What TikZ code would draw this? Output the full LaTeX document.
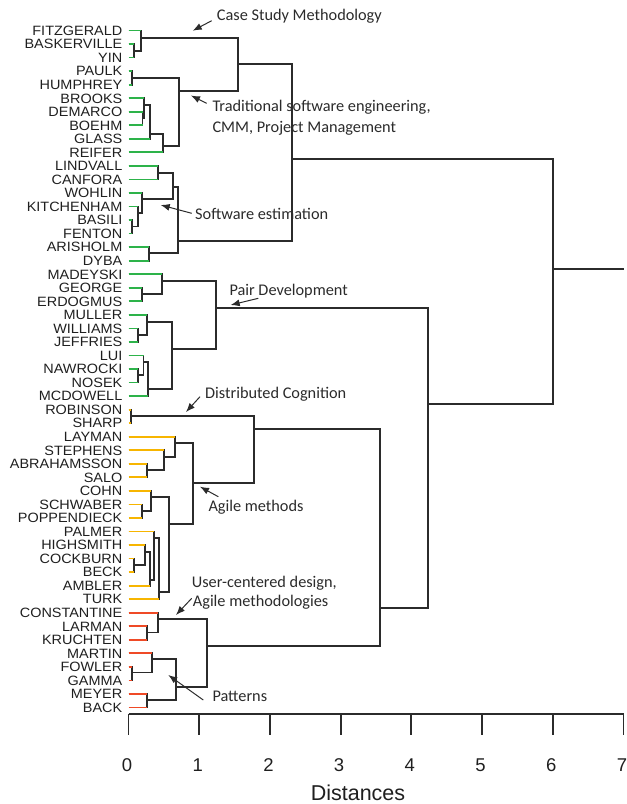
\documentclass[tikz,border=0pt]{standalone}
\usepackage{fontspec}
\setmainfont{Liberation Sans}
\newfontfamily\annfont{Carlito}
\usetikzlibrary{arrows.meta}
\definecolor{lgreen}{HTML}{2DB34A}
\definecolor{lyellow}{HTML}{F7B500}
\definecolor{lred}{HTML}{EF4A26}
\definecolor{tcol}{HTML}{2B2B2B}
\tikzset{
  tr/.style={draw=tcol, line width=1.75pt},
  gl/.style={draw=lgreen, line width=1.75pt},
  yl/.style={draw=lyellow, line width=1.75pt},
  rl/.style={draw=lred, line width=1.75pt},
  leaflab/.style={anchor=base east, inner sep=0pt, font=\fontsize{13.5}{14}\selectfont, text=black!88},
  ann/.style={anchor=base west, inner sep=0pt, font=\annfont\fontsize{16.3}{20}\selectfont, text=tcol},
  annarrow/.style={draw=tcol, line width=1pt, -{Latex[length=9pt,width=7pt]}},
  axisline/.style={draw=tcol, line width=1.75pt},
  ticklab/.style={anchor=base, inner sep=0pt, font=\fontsize{18.5}{20}\selectfont, text=black!88},
}
\newcommand\dm[5]{%
  \draw[tr] (#2) -- (#2 -| #1) -- (#3 -| #1) -- (#3);
  \draw[#4] (#2) -- (#2 -| #1);
  \draw[#5] (#3) -- (#3 -| #1);
}
\begin{document}
\begin{tikzpicture}[x=1pt,y=-1pt]
\useasboundingbox (0,0) rectangle (627,804);
% leaves
\foreach \n [count=\i from 0] in {FITZGERALD,BASKERVILLE,YIN,PAULK,HUMPHREY,BROOKS,DEMARCO,BOEHM,GLASS,REIFER,LINDVALL,CANFORA,WOHLIN,KITCHENHAM,BASILI,FENTON,ARISHOLM,DYBA,MADEYSKI,GEORGE,ERDOGMUS,MULLER,WILLIAMS,JEFFRIES,LUI,NAWROCKI,NOSEK,MCDOWELL,ROBINSON,SHARP,LAYMAN,STEPHENS,ABRAHAMSSON,SALO,COHN,SCHWABER,POPPENDIECK,PALMER,HIGHSMITH,COCKBURN,BECK,AMBLER,TURK,CONSTANTINE,LARMAN,KRUCHTEN,MARTIN,FOWLER,GAMMA,MEYER,BACK}{
  \coordinate (\n) at (128.5,{30.5+13.54*\i});
  \node[leaflab] (t\n) at (122.5,{30.5+13.54*\i+4.8}) {\scalebox{1.07}[1]{\n}};
}
% merge points
\coordinate (A1) at (134.3,51);
\coordinate (A2) at (140.7,38.3);
\coordinate (B1) at (132.3,78);
\coordinate (C1) at (142.5,118.5);
\coordinate (C2) at (144.2,105);
\coordinate (C3) at (150,134);
\coordinate (C4) at (163,146);
\coordinate (B2) at (179,91);
\coordinate (A3) at (237.7,64);
\coordinate (D1) at (158.3,173);
\coordinate (E1) at (132.3,226.5);
\coordinate (E2) at (137.7,213.3);
\coordinate (E3) at (141.7,199.3);
\coordinate (D2) at (173.3,186.7);
\coordinate (F1) at (149.3,253.3);
\coordinate (D3) at (178.3,240.7);
\coordinate (G) at (292,159);
\coordinate (H1) at (141.7,294);
\coordinate (H2) at (161.7,281);
\coordinate (I1) at (138.3,335);
\coordinate (I2) at (146.7,321.7);
\coordinate (J1) at (138.3,375);
\coordinate (J2) at (143.5,362.3);
\coordinate (J3) at (148.3,389);
\coordinate (I3) at (171.7,349);
\coordinate (K) at (216,307.7);
\coordinate (RS) at (131,415.7);
\coordinate (L1) at (146.7,470);
\coordinate (L2) at (164.3,456.7);
\coordinate (L3) at (175,442.7);
\coordinate (M1) at (141.7,510.7);
\coordinate (M2) at (151,497.3);
\coordinate (N1) at (134.3,565);
\coordinate (N2) at (145,551.7);
\coordinate (N3) at (150,580);
\coordinate (N4) at (154.3,538.3);
\coordinate (N5) at (159.3,591.7);
\coordinate (M3) at (169.3,524);
\coordinate (L4) at (193.3,483.3);
\coordinate (O) at (254.3,429.3);
\coordinate (P1) at (146.7,632.5);
\coordinate (P2) at (158.3,619);
\coordinate (Q1) at (132.3,672.5);
\coordinate (Q2) at (151.7,659.3);
\coordinate (Q3) at (146.7,700);
\coordinate (Q4) at (176,686.7);
\coordinate (R) at (206.7,646);
\coordinate (S) at (380,608);
\coordinate (T) at (428,404);
\coordinate (ROOT) at (553,269);
\coordinate (rootend) at (624,269);
% merges
\dm{A1}{BASKERVILLE}{YIN}{gl}{gl}
\dm{A2}{FITZGERALD}{A1}{gl}{tr}
\dm{B1}{PAULK}{HUMPHREY}{gl}{gl}
\dm{C1}{DEMARCO}{BOEHM}{gl}{gl}
\dm{C2}{BROOKS}{C1}{gl}{tr}
\dm{C3}{C2}{GLASS}{tr}{gl}
\dm{C4}{C3}{REIFER}{tr}{gl}
\dm{B2}{B1}{C4}{tr}{tr}
\dm{A3}{A2}{B2}{tr}{tr}
\dm{D1}{LINDVALL}{CANFORA}{gl}{gl}
\dm{E1}{BASILI}{FENTON}{gl}{gl}
\dm{E2}{KITCHENHAM}{E1}{gl}{tr}
\dm{E3}{WOHLIN}{E2}{gl}{tr}
\dm{D2}{D1}{E3}{tr}{tr}
\dm{F1}{ARISHOLM}{DYBA}{gl}{gl}
\dm{D3}{D2}{F1}{tr}{tr}
\dm{G}{A3}{D3}{tr}{tr}
\dm{H1}{GEORGE}{ERDOGMUS}{gl}{gl}
\dm{H2}{MADEYSKI}{H1}{gl}{tr}
\dm{I1}{WILLIAMS}{JEFFRIES}{gl}{gl}
\dm{I2}{MULLER}{I1}{gl}{tr}
\dm{J1}{NAWROCKI}{NOSEK}{gl}{gl}
\dm{J2}{LUI}{J1}{gl}{tr}
\dm{J3}{J2}{MCDOWELL}{tr}{gl}
\dm{I3}{I2}{J3}{tr}{tr}
\dm{K}{H2}{I3}{tr}{tr}
\dm{RS}{ROBINSON}{SHARP}{yl}{yl}
\dm{L1}{ABRAHAMSSON}{SALO}{yl}{yl}
\dm{L2}{STEPHENS}{L1}{yl}{tr}
\dm{L3}{LAYMAN}{L2}{yl}{tr}
\dm{M1}{SCHWABER}{POPPENDIECK}{yl}{yl}
\dm{M2}{COHN}{M1}{yl}{tr}
\dm{N1}{COCKBURN}{BECK}{yl}{yl}
\dm{N2}{HIGHSMITH}{N1}{yl}{tr}
\dm{N3}{N2}{AMBLER}{tr}{yl}
\dm{N4}{PALMER}{N3}{yl}{tr}
\dm{N5}{N4}{TURK}{tr}{yl}
\dm{M3}{M2}{N5}{tr}{tr}
\dm{L4}{L3}{M3}{tr}{tr}
\dm{O}{RS}{L4}{tr}{tr}
\dm{P1}{LARMAN}{KRUCHTEN}{rl}{rl}
\dm{P2}{CONSTANTINE}{P1}{rl}{tr}
\dm{Q1}{FOWLER}{GAMMA}{rl}{rl}
\dm{Q2}{MARTIN}{Q1}{rl}{tr}
\dm{Q3}{MEYER}{BACK}{rl}{rl}
\dm{Q4}{Q2}{Q3}{tr}{tr}
\dm{R}{P2}{Q4}{tr}{tr}
\dm{S}{O}{R}{tr}{tr}
\dm{T}{K}{S}{tr}{tr}
\dm{ROOT}{G}{T}{tr}{tr}
\draw[tr] (ROOT) -- (rootend);
% annotations
\node[ann] (a1) at (216.7,20.7) {Case Study Methodology};
\node[ann] (a2) at (212.3,111.7) {Traditional software engineering,};
\node[ann] (a2b) at (212.3,132.3) {CMM, Project Management};
\node[ann] (a3) at (195,219.3) {Software estimation};
\node[ann] (a4) at (229.3,295) {Pair Development};
\node[ann] (a5) at (205,398.3) {Distributed Cognition};
\node[ann] (a6) at (208.3,511) {Agile methods};
\node[ann] (a7) at (191.7,587.3) {User-centered design,};
\node[ann] (a7b) at (192.7,606.7) {Agile methodologies};
\node[ann] (a8) at (212.3,701) {Patterns};
\coordinate (s1) at (211.7,20.7); \coordinate (e1) at (192.7,30.7);
\coordinate (s2) at (206.7,103.3); \coordinate (e2) at (191,95.5);
\coordinate (s3) at (191.7,213.3); \coordinate (e3) at (160.7,205);
\coordinate (s4) at (258.3,298.3); \coordinate (e4) at (230.7,305);
\coordinate (s5) at (200,396.7); \coordinate (e5) at (186,412);
\coordinate (s6) at (218.3,496.7); \coordinate (e6) at (200,486.7);
\coordinate (s7) at (191.7,598.3); \coordinate (e7) at (176,615);
\coordinate (s8) at (203.3,700); \coordinate (e8) at (168.3,675);
\foreach \k in {1,...,8}{\draw[annarrow] (s\k) -- (e\k);}
% axis
\coordinate (ax0) at (128.5,714);
\coordinate (ax7) at (623.5,714);
\draw[axisline] (ax0) -- (ax7);
\foreach \k in {0,...,7}{
  \coordinate (tk\k) at ({128.5+70.71*\k},714);
  \draw[axisline] (tk\k) -- ++(0,21);
  \node[ticklab] (tl\k) at ({127+70.71*\k},771.5) {\k};
}
\node[anchor=base, inner sep=0pt, font=\fontsize{21.5}{24}\selectfont, text=black!88] (xlab) at (358,800) {Distances};
\end{tikzpicture}
\end{document}
